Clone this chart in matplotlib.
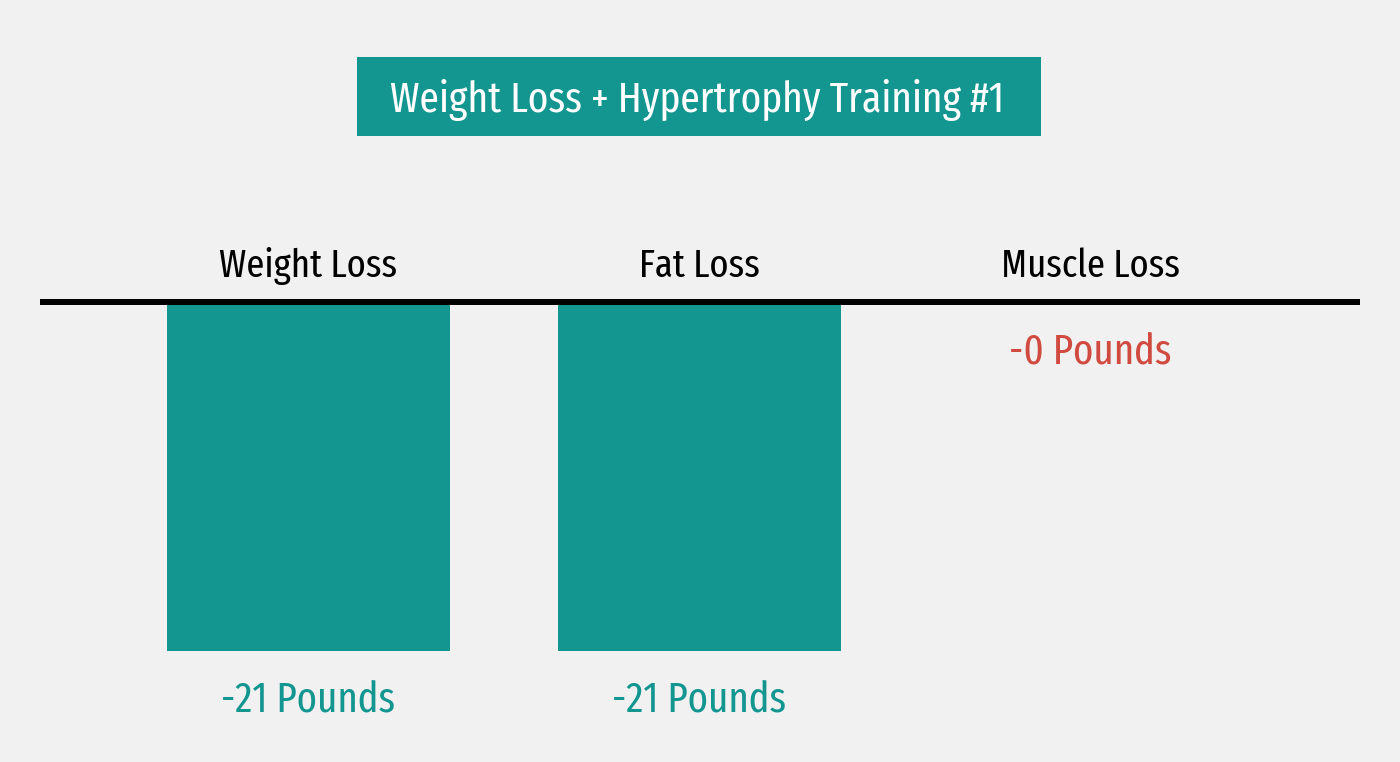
import matplotlib
matplotlib.use("Agg")
import matplotlib.pyplot as plt
from matplotlib.patches import Rectangle
from matplotlib import font_manager as fm

# ---- data ----
title = "Weight Loss + Hypertrophy Training #1"
categories = ["Weight Loss", "Fat Loss", "Muscle Loss"]
values = [-21, -21, 0]
value_labels = ["-21 Pounds", "-21 Pounds", "-0 Pounds"]

# ---- style ----
TEAL = "#139690"
RED = "#D04A40"
BG = "#F1F1F1"
label_colors = [TEAL, TEAL, RED]

# prefer a narrow, regular-weight face if one is installed
def pick_font():
    cands = []
    for f in fm.fontManager.ttflist:
        cond = (str(f.stretch) in ("condensed", "semi-condensed", "extra-condensed")
                or "Condensed" in f.fname or "Narrow" in f.fname)
        base = f.fname.rsplit("/", 1)[-1]
        if cond and f.style == "normal" and f.weight == 400 and "Ultra" not in base \
                and "Medium" not in base and "Bold" not in base and "Light" not in base:
            cands.append(f)
    if cands:
        def rank(f):
            n = f.fname
            if "ExtraCondensed" in n or str(f.stretch) == "extra-condensed":
                r = 0
            elif "SemiCondensed" in n or str(f.stretch) == "semi-condensed":
                r = 2
            else:
                r = 1
            return (r, n)
        cands.sort(key=rank)
        return fm.FontProperties(fname=cands[0].fname)
    return fm.FontProperties(family=["Roboto", "DejaVu Sans"])

FP = pick_font()

W, H = 1400, 762
fig = plt.figure(figsize=(W / 100, H / 100), dpi=100, facecolor=BG)
renderer = fig.canvas.get_renderer()

def fit_size(t, target_px, start=28.0):
    t.set_fontsize(start)
    w = t.get_window_extent(renderer=renderer).width
    s = start * target_px / w
    t.set_fontsize(s)
    return s

ax = fig.add_axes([40 / W, 0, 1320 / W, (H - 302) / H])
ax.set_facecolor(BG)
px_per_x = 391.0
xs = list(range(len(categories)))
ax.set_xlim(-268.5 / px_per_x, 2 + 270 / px_per_x)
px_per_unit = 349 / 21.0
ax.set_ylim(-(H - 302) / px_per_unit, 0)
ax.axis("off")

ax.bar(xs, values, width=283 / px_per_x, color=TEAL, align="center", zorder=2)
ax.axhline(0, color="black", linewidth=6 * 0.72, zorder=3, clip_on=False,
           solid_capstyle="butt")

val_texts, cat_texts = [], []
for x, v, lab, c, cat in zip(xs, values, value_labels, label_colors, categories):
    val_texts.append(ax.annotate(lab, xy=(x, v), xytext=(0, -61 * 0.72), textcoords="offset points",
                                 ha="center", va="baseline", color=c, fontproperties=FP,
                                 annotation_clip=False))
    cat_texts.append(ax.annotate(cat, xy=(x, 0), xytext=(0, 25 * 0.72), textcoords="offset points",
                                 ha="center", va="baseline", color="black",
                                 fontproperties=FP, annotation_clip=False))

s = fit_size(val_texts[0], 174)
for t in val_texts:
    t.set_fontsize(s)
s = fit_size(cat_texts[0], 178)
for t in cat_texts:
    t.set_fontsize(s)

# title box
fig.patches.append(Rectangle((357 / W, (H - 136) / H), (1041 - 357) / W, 79 / H,
                             transform=fig.transFigure, facecolor=TEAL,
                             edgecolor="none", zorder=1))
tt = fig.text(697.5 / W, (H - 112) / H, title, ha="center", va="baseline",
              color="white", fontproperties=FP)
fit_size(tt, 615)

fig.savefig("out.png", dpi=100, facecolor=BG)
